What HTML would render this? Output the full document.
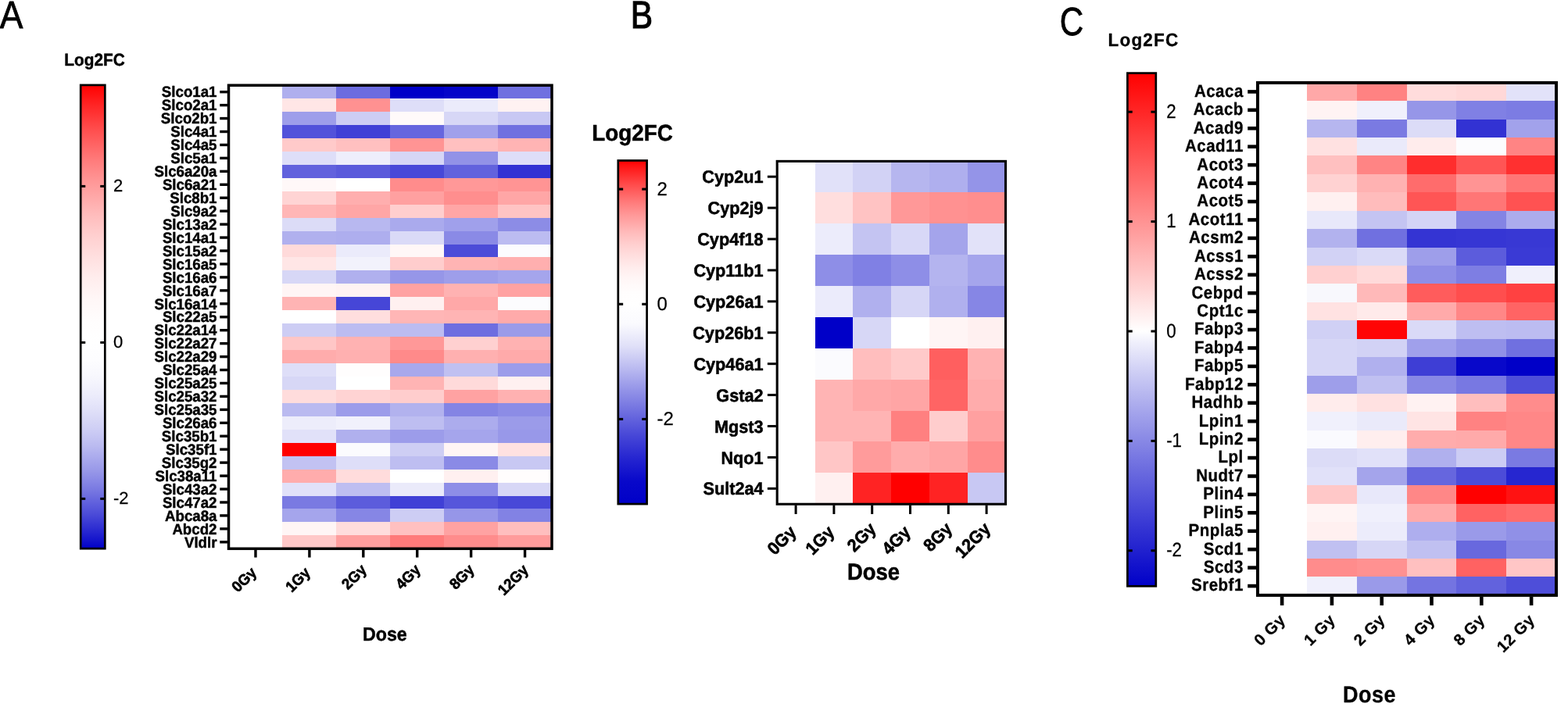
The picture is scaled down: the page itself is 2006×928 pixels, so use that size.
<!DOCTYPE html>
<html lang="en">
<head>
<meta charset="utf-8">
<title>Log2FC heatmaps</title>
<style>
html,body{margin:0;padding:0;background:#fff;}
body{width:2006px;height:928px;overflow:hidden;}
svg{display:block;}
</style>
</head>
<body>
<svg width="2006" height="928" viewBox="0 0 2006 928" text-rendering="geometricPrecision">
<rect width="2006" height="928" fill="#fff"/>
<g shape-rendering="crispEdges">
<rect x="361.42" y="109.20" width="69.22" height="17.25" fill="#afafee"/>
<rect x="430.33" y="109.20" width="69.22" height="17.25" fill="#6c6cdf"/>
<rect x="499.25" y="109.20" width="69.22" height="17.25" fill="#0000c8"/>
<rect x="568.17" y="109.20" width="69.22" height="17.25" fill="#0505c9"/>
<rect x="637.08" y="109.20" width="68.92" height="17.25" fill="#7070e0"/>
<rect x="361.42" y="126.15" width="69.22" height="17.25" fill="#ffe6e6"/>
<rect x="430.33" y="126.15" width="69.22" height="17.25" fill="#ff9191"/>
<rect x="499.25" y="126.15" width="69.22" height="17.25" fill="#dedef8"/>
<rect x="568.17" y="126.15" width="69.22" height="17.25" fill="#ebebfb"/>
<rect x="637.08" y="126.15" width="68.92" height="17.25" fill="#fff2f2"/>
<rect x="361.42" y="143.09" width="69.22" height="17.25" fill="#9e9eea"/>
<rect x="430.33" y="143.09" width="69.22" height="17.25" fill="#cdcdf4"/>
<rect x="499.25" y="143.09" width="69.22" height="17.25" fill="#fffafa"/>
<rect x="568.17" y="143.09" width="69.22" height="17.25" fill="#d7d7f6"/>
<rect x="637.08" y="143.09" width="68.92" height="17.25" fill="#c8c8f3"/>
<rect x="361.42" y="160.04" width="69.22" height="17.25" fill="#5252da"/>
<rect x="430.33" y="160.04" width="69.22" height="17.25" fill="#4040d6"/>
<rect x="499.25" y="160.04" width="69.22" height="17.25" fill="#6666de"/>
<rect x="568.17" y="160.04" width="69.22" height="17.25" fill="#a0a0eb"/>
<rect x="637.08" y="160.04" width="68.92" height="17.25" fill="#7070e0"/>
<rect x="361.42" y="176.98" width="69.22" height="17.25" fill="#ffcaca"/>
<rect x="430.33" y="176.98" width="69.22" height="17.25" fill="#ffc0c0"/>
<rect x="499.25" y="176.98" width="69.22" height="17.25" fill="#ff9494"/>
<rect x="568.17" y="176.98" width="69.22" height="17.25" fill="#ffc0c0"/>
<rect x="637.08" y="176.98" width="68.92" height="17.25" fill="#ffb4b4"/>
<rect x="361.42" y="193.93" width="69.22" height="17.25" fill="#dedef8"/>
<rect x="430.33" y="193.93" width="69.22" height="17.25" fill="#eeeefb"/>
<rect x="499.25" y="193.93" width="69.22" height="17.25" fill="#d6d6f6"/>
<rect x="568.17" y="193.93" width="69.22" height="17.25" fill="#9292e7"/>
<rect x="637.08" y="193.93" width="68.92" height="17.25" fill="#dedef8"/>
<rect x="361.42" y="210.87" width="69.22" height="17.25" fill="#6262dd"/>
<rect x="430.33" y="210.87" width="69.22" height="17.25" fill="#5a5adb"/>
<rect x="499.25" y="210.87" width="69.22" height="17.25" fill="#4848d8"/>
<rect x="568.17" y="210.87" width="69.22" height="17.25" fill="#6262dd"/>
<rect x="637.08" y="210.87" width="68.92" height="17.25" fill="#3232d3"/>
<rect x="361.42" y="227.82" width="69.22" height="17.25" fill="#fff8f8"/>
<rect x="430.33" y="227.82" width="69.22" height="17.25" fill="#ffffff"/>
<rect x="499.25" y="227.82" width="69.22" height="17.25" fill="#ff8c8c"/>
<rect x="568.17" y="227.82" width="69.22" height="17.25" fill="#ff9898"/>
<rect x="637.08" y="227.82" width="68.92" height="17.25" fill="#ff9494"/>
<rect x="361.42" y="244.77" width="69.22" height="17.25" fill="#ffd4d4"/>
<rect x="430.33" y="244.77" width="69.22" height="17.25" fill="#ffaeae"/>
<rect x="499.25" y="244.77" width="69.22" height="17.25" fill="#ffa0a0"/>
<rect x="568.17" y="244.77" width="69.22" height="17.25" fill="#ff8e8e"/>
<rect x="637.08" y="244.77" width="68.92" height="17.25" fill="#ffa6a6"/>
<rect x="361.42" y="261.71" width="69.22" height="17.25" fill="#ffb6b6"/>
<rect x="430.33" y="261.71" width="69.22" height="17.25" fill="#ffa6a6"/>
<rect x="499.25" y="261.71" width="69.22" height="17.25" fill="#ffcece"/>
<rect x="568.17" y="261.71" width="69.22" height="17.25" fill="#ffa6a6"/>
<rect x="637.08" y="261.71" width="68.92" height="17.25" fill="#ffc4c4"/>
<rect x="361.42" y="278.66" width="69.22" height="17.25" fill="#dcdcf7"/>
<rect x="430.33" y="278.66" width="69.22" height="17.25" fill="#b8b8f0"/>
<rect x="499.25" y="278.66" width="69.22" height="17.25" fill="#aaaaed"/>
<rect x="568.17" y="278.66" width="69.22" height="17.25" fill="#a0a0eb"/>
<rect x="637.08" y="278.66" width="68.92" height="17.25" fill="#8c8ce6"/>
<rect x="361.42" y="295.60" width="69.22" height="17.25" fill="#b0b0ee"/>
<rect x="430.33" y="295.60" width="69.22" height="17.25" fill="#aeaeee"/>
<rect x="499.25" y="295.60" width="69.22" height="17.25" fill="#dadaf7"/>
<rect x="568.17" y="295.60" width="69.22" height="17.25" fill="#8a8ae6"/>
<rect x="637.08" y="295.60" width="68.92" height="17.25" fill="#bcbcf1"/>
<rect x="361.42" y="312.55" width="69.22" height="17.25" fill="#ffdada"/>
<rect x="430.33" y="312.55" width="69.22" height="17.25" fill="#ebebfb"/>
<rect x="499.25" y="312.55" width="69.22" height="17.25" fill="#fff7f7"/>
<rect x="568.17" y="312.55" width="69.22" height="17.25" fill="#4c4cd8"/>
<rect x="637.08" y="312.55" width="68.92" height="17.25" fill="#fcfcfe"/>
<rect x="361.42" y="329.49" width="69.22" height="17.25" fill="#ffe6e6"/>
<rect x="430.33" y="329.49" width="69.22" height="17.25" fill="#f2f2fc"/>
<rect x="499.25" y="329.49" width="69.22" height="17.25" fill="#ffcdcd"/>
<rect x="568.17" y="329.49" width="69.22" height="17.25" fill="#ffb4b4"/>
<rect x="637.08" y="329.49" width="68.92" height="17.25" fill="#ffafaf"/>
<rect x="361.42" y="346.44" width="69.22" height="17.25" fill="#d7d7f6"/>
<rect x="430.33" y="346.44" width="69.22" height="17.25" fill="#b0b0ee"/>
<rect x="499.25" y="346.44" width="69.22" height="17.25" fill="#9696e8"/>
<rect x="568.17" y="346.44" width="69.22" height="17.25" fill="#9e9eea"/>
<rect x="637.08" y="346.44" width="68.92" height="17.25" fill="#a5a5ec"/>
<rect x="361.42" y="363.39" width="69.22" height="17.25" fill="#fff5f5"/>
<rect x="430.33" y="363.39" width="69.22" height="17.25" fill="#fff3f3"/>
<rect x="499.25" y="363.39" width="69.22" height="17.25" fill="#ffa2a2"/>
<rect x="568.17" y="363.39" width="69.22" height="17.25" fill="#ffb2b2"/>
<rect x="637.08" y="363.39" width="68.92" height="17.25" fill="#ffa2a2"/>
<rect x="361.42" y="380.33" width="69.22" height="17.25" fill="#ffb4b4"/>
<rect x="430.33" y="380.33" width="69.22" height="17.25" fill="#4646d7"/>
<rect x="499.25" y="380.33" width="69.22" height="17.25" fill="#fff0f0"/>
<rect x="568.17" y="380.33" width="69.22" height="17.25" fill="#ffa8a8"/>
<rect x="637.08" y="380.33" width="68.92" height="17.25" fill="#fcfcfe"/>
<rect x="361.42" y="397.28" width="69.22" height="17.25" fill="#ffffff"/>
<rect x="430.33" y="397.28" width="69.22" height="17.25" fill="#ffdede"/>
<rect x="499.25" y="397.28" width="69.22" height="17.25" fill="#ffb6b6"/>
<rect x="568.17" y="397.28" width="69.22" height="17.25" fill="#ffb4b4"/>
<rect x="637.08" y="397.28" width="68.92" height="17.25" fill="#ffaaaa"/>
<rect x="361.42" y="414.22" width="69.22" height="17.25" fill="#cdcdf4"/>
<rect x="430.33" y="414.22" width="69.22" height="17.25" fill="#bcbcf1"/>
<rect x="499.25" y="414.22" width="69.22" height="17.25" fill="#bcbcf1"/>
<rect x="568.17" y="414.22" width="69.22" height="17.25" fill="#6e6ee0"/>
<rect x="637.08" y="414.22" width="68.92" height="17.25" fill="#9b9be9"/>
<rect x="361.42" y="431.17" width="69.22" height="17.25" fill="#ffc6c6"/>
<rect x="430.33" y="431.17" width="69.22" height="17.25" fill="#ffb2b2"/>
<rect x="499.25" y="431.17" width="69.22" height="17.25" fill="#ff9898"/>
<rect x="568.17" y="431.17" width="69.22" height="17.25" fill="#ffd0d0"/>
<rect x="637.08" y="431.17" width="68.92" height="17.25" fill="#ffb2b2"/>
<rect x="361.42" y="448.11" width="69.22" height="17.25" fill="#ffacac"/>
<rect x="430.33" y="448.11" width="69.22" height="17.25" fill="#ffb0b0"/>
<rect x="499.25" y="448.11" width="69.22" height="17.25" fill="#ff8a8a"/>
<rect x="568.17" y="448.11" width="69.22" height="17.25" fill="#ffb0b0"/>
<rect x="637.08" y="448.11" width="68.92" height="17.25" fill="#ffaaaa"/>
<rect x="361.42" y="465.06" width="69.22" height="17.25" fill="#dedef8"/>
<rect x="430.33" y="465.06" width="69.22" height="17.25" fill="#fffdfd"/>
<rect x="499.25" y="465.06" width="69.22" height="17.25" fill="#a8a8ec"/>
<rect x="568.17" y="465.06" width="69.22" height="17.25" fill="#c0c0f1"/>
<rect x="637.08" y="465.06" width="68.92" height="17.25" fill="#9c9cea"/>
<rect x="361.42" y="482.01" width="69.22" height="17.25" fill="#d7d7f6"/>
<rect x="430.33" y="482.01" width="69.22" height="17.25" fill="#ffffff"/>
<rect x="499.25" y="482.01" width="69.22" height="17.25" fill="#ffb4b4"/>
<rect x="568.17" y="482.01" width="69.22" height="17.25" fill="#ffdada"/>
<rect x="637.08" y="482.01" width="68.92" height="17.25" fill="#fff0f0"/>
<rect x="361.42" y="498.95" width="69.22" height="17.25" fill="#ffdcdc"/>
<rect x="430.33" y="498.95" width="69.22" height="17.25" fill="#ffd3d3"/>
<rect x="499.25" y="498.95" width="69.22" height="17.25" fill="#ffcdcd"/>
<rect x="568.17" y="498.95" width="69.22" height="17.25" fill="#ffa2a2"/>
<rect x="637.08" y="498.95" width="68.92" height="17.25" fill="#ffb1b1"/>
<rect x="361.42" y="515.90" width="69.22" height="17.25" fill="#babaf0"/>
<rect x="430.33" y="515.90" width="69.22" height="17.25" fill="#9c9cea"/>
<rect x="499.25" y="515.90" width="69.22" height="17.25" fill="#b2b2ee"/>
<rect x="568.17" y="515.90" width="69.22" height="17.25" fill="#8484e4"/>
<rect x="637.08" y="515.90" width="68.92" height="17.25" fill="#8c8ce6"/>
<rect x="361.42" y="532.84" width="69.22" height="17.25" fill="#ededfb"/>
<rect x="430.33" y="532.84" width="69.22" height="17.25" fill="#f1f1fc"/>
<rect x="499.25" y="532.84" width="69.22" height="17.25" fill="#bebef1"/>
<rect x="568.17" y="532.84" width="69.22" height="17.25" fill="#acaced"/>
<rect x="637.08" y="532.84" width="68.92" height="17.25" fill="#9b9be9"/>
<rect x="361.42" y="549.79" width="69.22" height="17.25" fill="#e1e1f9"/>
<rect x="430.33" y="549.79" width="69.22" height="17.25" fill="#b0b0ee"/>
<rect x="499.25" y="549.79" width="69.22" height="17.25" fill="#9c9cea"/>
<rect x="568.17" y="549.79" width="69.22" height="17.25" fill="#a5a5ec"/>
<rect x="637.08" y="549.79" width="68.92" height="17.25" fill="#9898e9"/>
<rect x="361.42" y="566.73" width="69.22" height="17.25" fill="#ff0000"/>
<rect x="430.33" y="566.73" width="69.22" height="17.25" fill="#fbfbfe"/>
<rect x="499.25" y="566.73" width="69.22" height="17.25" fill="#cecef4"/>
<rect x="568.17" y="566.73" width="69.22" height="17.25" fill="#fff5f5"/>
<rect x="637.08" y="566.73" width="68.92" height="17.25" fill="#ffe1e1"/>
<rect x="361.42" y="583.68" width="69.22" height="17.25" fill="#c2c2f2"/>
<rect x="430.33" y="583.68" width="69.22" height="17.25" fill="#dedef8"/>
<rect x="499.25" y="583.68" width="69.22" height="17.25" fill="#bebef1"/>
<rect x="568.17" y="583.68" width="69.22" height="17.25" fill="#8a8ae6"/>
<rect x="637.08" y="583.68" width="68.92" height="17.25" fill="#c8c8f3"/>
<rect x="361.42" y="600.63" width="69.22" height="17.25" fill="#ffacac"/>
<rect x="430.33" y="600.63" width="69.22" height="17.25" fill="#ffdcdc"/>
<rect x="499.25" y="600.63" width="69.22" height="17.25" fill="#ffffff"/>
<rect x="568.17" y="600.63" width="69.22" height="17.25" fill="#fff0f0"/>
<rect x="637.08" y="600.63" width="68.92" height="17.25" fill="#fffdfd"/>
<rect x="361.42" y="617.57" width="69.22" height="17.25" fill="#e1e1f9"/>
<rect x="430.33" y="617.57" width="69.22" height="17.25" fill="#bebef1"/>
<rect x="499.25" y="617.57" width="69.22" height="17.25" fill="#eaeafa"/>
<rect x="568.17" y="617.57" width="69.22" height="17.25" fill="#8e8ee7"/>
<rect x="637.08" y="617.57" width="68.92" height="17.25" fill="#d7d7f6"/>
<rect x="361.42" y="634.52" width="69.22" height="17.25" fill="#7a7ae2"/>
<rect x="430.33" y="634.52" width="69.22" height="17.25" fill="#5c5cdc"/>
<rect x="499.25" y="634.52" width="69.22" height="17.25" fill="#4040d6"/>
<rect x="568.17" y="634.52" width="69.22" height="17.25" fill="#5656db"/>
<rect x="637.08" y="634.52" width="68.92" height="17.25" fill="#4848d8"/>
<rect x="361.42" y="651.46" width="69.22" height="17.25" fill="#a5a5ec"/>
<rect x="430.33" y="651.46" width="69.22" height="17.25" fill="#8686e5"/>
<rect x="499.25" y="651.46" width="69.22" height="17.25" fill="#cdcdf4"/>
<rect x="568.17" y="651.46" width="69.22" height="17.25" fill="#9696e8"/>
<rect x="637.08" y="651.46" width="68.92" height="17.25" fill="#8282e4"/>
<rect x="361.42" y="668.41" width="69.22" height="17.25" fill="#fff5f5"/>
<rect x="430.33" y="668.41" width="69.22" height="17.25" fill="#ffdcdc"/>
<rect x="499.25" y="668.41" width="69.22" height="17.25" fill="#ffc0c0"/>
<rect x="568.17" y="668.41" width="69.22" height="17.25" fill="#ffa2a2"/>
<rect x="637.08" y="668.41" width="68.92" height="17.25" fill="#ffbebe"/>
<rect x="361.42" y="685.35" width="69.22" height="16.95" fill="#ffc8c8"/>
<rect x="430.33" y="685.35" width="69.22" height="16.95" fill="#ff9e9e"/>
<rect x="499.25" y="685.35" width="69.22" height="16.95" fill="#ff7a7a"/>
<rect x="568.17" y="685.35" width="69.22" height="16.95" fill="#ff8c8c"/>
<rect x="637.08" y="685.35" width="68.92" height="16.95" fill="#ff9b9b"/>
</g>
<rect x="292.50" y="109.20" width="413.50" height="593.10" fill="none" stroke="#000" stroke-width="3.50"/>
<g font-family='"Liberation Sans", sans-serif' font-weight="bold" font-size="18.70" text-anchor="end" stroke="#000" stroke-width="0.45" stroke-linejoin="round">
<line x1="281.25" y1="117.67" x2="290.95" y2="117.67" stroke="#000" stroke-width="3.40"/>
<text transform="translate(277.50 124.37) scale(1.000 1.040)">Slco1a1</text>
<line x1="281.25" y1="134.62" x2="290.95" y2="134.62" stroke="#000" stroke-width="3.40"/>
<text transform="translate(277.50 141.32) scale(1.000 1.040)">Slco2a1</text>
<line x1="281.25" y1="151.56" x2="290.95" y2="151.56" stroke="#000" stroke-width="3.40"/>
<text transform="translate(277.50 158.26) scale(1.000 1.040)">Slco2b1</text>
<line x1="281.25" y1="168.51" x2="290.95" y2="168.51" stroke="#000" stroke-width="3.40"/>
<text transform="translate(277.50 175.21) scale(1.000 1.040)">Slc4a1</text>
<line x1="281.25" y1="185.46" x2="290.95" y2="185.46" stroke="#000" stroke-width="3.40"/>
<text transform="translate(277.50 192.16) scale(1.000 1.040)">Slc4a5</text>
<line x1="281.25" y1="202.40" x2="290.95" y2="202.40" stroke="#000" stroke-width="3.40"/>
<text transform="translate(277.50 209.10) scale(1.000 1.040)">Slc5a1</text>
<line x1="281.25" y1="219.35" x2="290.95" y2="219.35" stroke="#000" stroke-width="3.40"/>
<text transform="translate(277.50 226.05) scale(1.000 1.040)">Slc6a20a</text>
<line x1="281.25" y1="236.29" x2="290.95" y2="236.29" stroke="#000" stroke-width="3.40"/>
<text transform="translate(277.50 242.99) scale(1.000 1.040)">Slc6a21</text>
<line x1="281.25" y1="253.24" x2="290.95" y2="253.24" stroke="#000" stroke-width="3.40"/>
<text transform="translate(277.50 259.94) scale(1.000 1.040)">Slc8b1</text>
<line x1="281.25" y1="270.18" x2="290.95" y2="270.18" stroke="#000" stroke-width="3.40"/>
<text transform="translate(277.50 276.88) scale(1.000 1.040)">Slc9a2</text>
<line x1="281.25" y1="287.13" x2="290.95" y2="287.13" stroke="#000" stroke-width="3.40"/>
<text transform="translate(277.50 293.83) scale(1.000 1.040)">Slc13a2</text>
<line x1="281.25" y1="304.08" x2="290.95" y2="304.08" stroke="#000" stroke-width="3.40"/>
<text transform="translate(277.50 310.78) scale(1.000 1.040)">Slc14a1</text>
<line x1="281.25" y1="321.02" x2="290.95" y2="321.02" stroke="#000" stroke-width="3.40"/>
<text transform="translate(277.50 327.72) scale(1.000 1.040)">Slc15a2</text>
<line x1="281.25" y1="337.97" x2="290.95" y2="337.97" stroke="#000" stroke-width="3.40"/>
<text transform="translate(277.50 344.67) scale(1.000 1.040)">Slc16a5</text>
<line x1="281.25" y1="354.91" x2="290.95" y2="354.91" stroke="#000" stroke-width="3.40"/>
<text transform="translate(277.50 361.61) scale(1.000 1.040)">Slc16a6</text>
<line x1="281.25" y1="371.86" x2="290.95" y2="371.86" stroke="#000" stroke-width="3.40"/>
<text transform="translate(277.50 378.56) scale(1.000 1.040)">Slc16a7</text>
<line x1="281.25" y1="388.80" x2="290.95" y2="388.80" stroke="#000" stroke-width="3.40"/>
<text transform="translate(277.50 395.50) scale(1.000 1.040)">Slc16a14</text>
<line x1="281.25" y1="405.75" x2="290.95" y2="405.75" stroke="#000" stroke-width="3.40"/>
<text transform="translate(277.50 412.45) scale(1.000 1.040)">Slc22a5</text>
<line x1="281.25" y1="422.70" x2="290.95" y2="422.70" stroke="#000" stroke-width="3.40"/>
<text transform="translate(277.50 429.40) scale(1.000 1.040)">Slc22a14</text>
<line x1="281.25" y1="439.64" x2="290.95" y2="439.64" stroke="#000" stroke-width="3.40"/>
<text transform="translate(277.50 446.34) scale(1.000 1.040)">Slc22a27</text>
<line x1="281.25" y1="456.59" x2="290.95" y2="456.59" stroke="#000" stroke-width="3.40"/>
<text transform="translate(277.50 463.29) scale(1.000 1.040)">Slc22a29</text>
<line x1="281.25" y1="473.53" x2="290.95" y2="473.53" stroke="#000" stroke-width="3.40"/>
<text transform="translate(277.50 480.23) scale(1.000 1.040)">Slc25a4</text>
<line x1="281.25" y1="490.48" x2="290.95" y2="490.48" stroke="#000" stroke-width="3.40"/>
<text transform="translate(277.50 497.18) scale(1.000 1.040)">Slc25a25</text>
<line x1="281.25" y1="507.42" x2="290.95" y2="507.42" stroke="#000" stroke-width="3.40"/>
<text transform="translate(277.50 514.12) scale(1.000 1.040)">Slc25a32</text>
<line x1="281.25" y1="524.37" x2="290.95" y2="524.37" stroke="#000" stroke-width="3.40"/>
<text transform="translate(277.50 531.07) scale(1.000 1.040)">Slc25a35</text>
<line x1="281.25" y1="541.32" x2="290.95" y2="541.32" stroke="#000" stroke-width="3.40"/>
<text transform="translate(277.50 548.02) scale(1.000 1.040)">Slc26a6</text>
<line x1="281.25" y1="558.26" x2="290.95" y2="558.26" stroke="#000" stroke-width="3.40"/>
<text transform="translate(277.50 564.96) scale(1.000 1.040)">Slc35b1</text>
<line x1="281.25" y1="575.21" x2="290.95" y2="575.21" stroke="#000" stroke-width="3.40"/>
<text transform="translate(277.50 581.91) scale(1.000 1.040)">Slc35f1</text>
<line x1="281.25" y1="592.15" x2="290.95" y2="592.15" stroke="#000" stroke-width="3.40"/>
<text transform="translate(277.50 598.85) scale(1.000 1.040)">Slc35g2</text>
<line x1="281.25" y1="609.10" x2="290.95" y2="609.10" stroke="#000" stroke-width="3.40"/>
<text transform="translate(277.50 615.80) scale(1.000 1.040)">Slc38a11</text>
<line x1="281.25" y1="626.04" x2="290.95" y2="626.04" stroke="#000" stroke-width="3.40"/>
<text transform="translate(277.50 632.74) scale(1.000 1.040)">Slc43a2</text>
<line x1="281.25" y1="642.99" x2="290.95" y2="642.99" stroke="#000" stroke-width="3.40"/>
<text transform="translate(277.50 649.69) scale(1.000 1.040)">Slc47a2</text>
<line x1="281.25" y1="659.94" x2="290.95" y2="659.94" stroke="#000" stroke-width="3.40"/>
<text transform="translate(277.50 666.64) scale(1.000 1.040)">Abca8a</text>
<line x1="281.25" y1="676.88" x2="290.95" y2="676.88" stroke="#000" stroke-width="3.40"/>
<text transform="translate(277.50 683.58) scale(1.000 1.040)">Abcd2</text>
<line x1="281.25" y1="693.83" x2="290.95" y2="693.83" stroke="#000" stroke-width="3.40"/>
<text transform="translate(277.50 700.53) scale(1.000 1.040)">Vldlr</text>
</g>
<g font-family='"Liberation Sans", sans-serif' font-weight="bold" font-size="18.70" text-anchor="end" stroke="#000" stroke-width="0.60" stroke-linejoin="round">
<line x1="326.96" y1="703.85" x2="326.96" y2="713.55" stroke="#000" stroke-width="3.40"/>
<text transform="translate(329.26 734.10) rotate(-45) scale(1.000 1.040)">0Gy</text>
<line x1="395.88" y1="703.85" x2="395.88" y2="713.55" stroke="#000" stroke-width="3.40"/>
<text transform="translate(398.18 734.10) rotate(-45) scale(1.000 1.040)">1Gy</text>
<line x1="464.79" y1="703.85" x2="464.79" y2="713.55" stroke="#000" stroke-width="3.40"/>
<text transform="translate(470.09 730.50) rotate(-45) scale(1.000 1.040)">2Gy</text>
<line x1="533.71" y1="703.85" x2="533.71" y2="713.55" stroke="#000" stroke-width="3.40"/>
<text transform="translate(539.01 730.50) rotate(-45) scale(1.000 1.040)">4Gy</text>
<line x1="602.62" y1="703.85" x2="602.62" y2="713.55" stroke="#000" stroke-width="3.40"/>
<text transform="translate(607.92 730.50) rotate(-45) scale(1.000 1.040)">8Gy</text>
<line x1="671.54" y1="703.85" x2="671.54" y2="713.55" stroke="#000" stroke-width="3.40"/>
<text transform="translate(677.14 730.70) rotate(-45) scale(1.000 1.040)">12Gy</text>
</g>
<text transform="translate(492.40 819.80) scale(1.000 1.055)" font-family='"Liberation Sans", sans-serif' font-weight="bold" font-size="23.20" text-anchor="middle" stroke="#000" stroke-width="0.45" stroke-linejoin="round">Dose</text>
<defs><linearGradient id="gA" x1="0" y1="0" x2="0" y2="1"><stop offset="0.00%" stop-color="#ff0000"/><stop offset="2.31%" stop-color="#ff1414"/><stop offset="4.63%" stop-color="#ff2727"/><stop offset="6.94%" stop-color="#ff3939"/><stop offset="9.26%" stop-color="#ff4b4b"/><stop offset="11.57%" stop-color="#ff5b5b"/><stop offset="13.88%" stop-color="#ff6b6b"/><stop offset="16.20%" stop-color="#ff7b7b"/><stop offset="18.51%" stop-color="#ff8989"/><stop offset="20.83%" stop-color="#ff9797"/><stop offset="23.14%" stop-color="#ffa3a3"/><stop offset="25.45%" stop-color="#ffafaf"/><stop offset="27.77%" stop-color="#ffbbbb"/><stop offset="30.08%" stop-color="#ffc5c5"/><stop offset="32.40%" stop-color="#ffcfcf"/><stop offset="34.71%" stop-color="#ffd7d7"/><stop offset="37.02%" stop-color="#ffdfdf"/><stop offset="39.34%" stop-color="#ffe6e6"/><stop offset="41.65%" stop-color="#ffeded"/><stop offset="43.97%" stop-color="#fff2f2"/><stop offset="46.28%" stop-color="#fff7f7"/><stop offset="48.59%" stop-color="#fffafa"/><stop offset="50.91%" stop-color="#fffdfd"/><stop offset="53.22%" stop-color="#fffefe"/><stop offset="55.54%" stop-color="#ffffff"/><stop offset="57.39%" stop-color="#fefeff"/><stop offset="59.24%" stop-color="#fdfdff"/><stop offset="61.09%" stop-color="#fafafe"/><stop offset="62.95%" stop-color="#f7f7fd"/><stop offset="64.80%" stop-color="#f2f2fc"/><stop offset="66.65%" stop-color="#ededfb"/><stop offset="68.51%" stop-color="#e6e6fa"/><stop offset="70.36%" stop-color="#dfdff8"/><stop offset="72.21%" stop-color="#d7d7f6"/><stop offset="74.06%" stop-color="#cfcff5"/><stop offset="75.92%" stop-color="#c5c5f3"/><stop offset="77.77%" stop-color="#bbbbf0"/><stop offset="79.62%" stop-color="#afafee"/><stop offset="81.47%" stop-color="#a3a3eb"/><stop offset="83.33%" stop-color="#9797e8"/><stop offset="85.18%" stop-color="#8989e6"/><stop offset="87.03%" stop-color="#7b7be2"/><stop offset="88.88%" stop-color="#6b6bdf"/><stop offset="90.74%" stop-color="#5b5bdc"/><stop offset="92.59%" stop-color="#4b4bd8"/><stop offset="94.44%" stop-color="#3939d4"/><stop offset="96.29%" stop-color="#2727d0"/><stop offset="98.15%" stop-color="#1414cc"/><stop offset="100.00%" stop-color="#0000c8"/></linearGradient></defs>
<rect x="103.20" y="108.90" width="31.10" height="593.30" fill="url(#gA)" stroke="#000" stroke-width="2.70"/>
<g font-family='"Liberation Sans", sans-serif' font-size="22.00" stroke="#000" stroke-width="0.25">
<line x1="103.20" y1="238.40" x2="109.25" y2="238.40" stroke="#000" stroke-width="3.00"/>
<line x1="128.25" y1="238.40" x2="134.30" y2="238.40" stroke="#000" stroke-width="3.00"/>
<text transform="translate(145.00 245.10) scale(1.000 1.000)">2</text>
<line x1="103.20" y1="438.40" x2="109.25" y2="438.40" stroke="#000" stroke-width="3.00"/>
<line x1="128.25" y1="438.40" x2="134.30" y2="438.40" stroke="#000" stroke-width="3.00"/>
<text transform="translate(145.00 445.10) scale(1.000 1.000)">0</text>
<line x1="103.20" y1="638.40" x2="109.25" y2="638.40" stroke="#000" stroke-width="3.00"/>
<line x1="128.25" y1="638.40" x2="134.30" y2="638.40" stroke="#000" stroke-width="3.00"/>
<text transform="translate(145.00 645.10) scale(1.000 1.000)">-2</text>
</g>
<text transform="translate(82.30 83.80) scale(1.000 1.060)" font-family='"Liberation Sans", sans-serif' font-weight="bold" font-size="20.80" stroke="#000" stroke-width="0.45" stroke-linejoin="round">Log2FC</text>
<text transform="translate(-0.20 35.50) scale(0.897 1)" font-family='"Liberation Sans", sans-serif' font-size="49.60" stroke="#000" stroke-width="0.80">A</text>
<g shape-rendering="crispEdges">
<rect x="1042.50" y="206.20" width="49.10" height="40.22" fill="#e1e1f9"/>
<rect x="1091.30" y="206.20" width="49.10" height="40.22" fill="#d2d2f5"/>
<rect x="1140.10" y="206.20" width="49.10" height="40.22" fill="#b6b6ef"/>
<rect x="1188.90" y="206.20" width="49.10" height="40.22" fill="#afafee"/>
<rect x="1237.70" y="206.20" width="48.80" height="40.22" fill="#9494e8"/>
<rect x="1042.50" y="246.12" width="49.10" height="40.22" fill="#ffdede"/>
<rect x="1091.30" y="246.12" width="49.10" height="40.22" fill="#ffc3c3"/>
<rect x="1140.10" y="246.12" width="49.10" height="40.22" fill="#ff9898"/>
<rect x="1188.90" y="246.12" width="49.10" height="40.22" fill="#ff9191"/>
<rect x="1237.70" y="246.12" width="48.80" height="40.22" fill="#ff8e8e"/>
<rect x="1042.50" y="286.04" width="49.10" height="40.22" fill="#ececfb"/>
<rect x="1091.30" y="286.04" width="49.10" height="40.22" fill="#c4c4f2"/>
<rect x="1140.10" y="286.04" width="49.10" height="40.22" fill="#d8d8f7"/>
<rect x="1188.90" y="286.04" width="49.10" height="40.22" fill="#a4a4eb"/>
<rect x="1237.70" y="286.04" width="48.80" height="40.22" fill="#e2e2f9"/>
<rect x="1042.50" y="325.95" width="49.10" height="40.22" fill="#8e8ee7"/>
<rect x="1091.30" y="325.95" width="49.10" height="40.22" fill="#8080e4"/>
<rect x="1140.10" y="325.95" width="49.10" height="40.22" fill="#8e8ee7"/>
<rect x="1188.90" y="325.95" width="49.10" height="40.22" fill="#b4b4ef"/>
<rect x="1237.70" y="325.95" width="48.80" height="40.22" fill="#a5a5ec"/>
<rect x="1042.50" y="365.87" width="49.10" height="40.22" fill="#ebebfb"/>
<rect x="1091.30" y="365.87" width="49.10" height="40.22" fill="#b0b0ee"/>
<rect x="1140.10" y="365.87" width="49.10" height="40.22" fill="#d6d6f6"/>
<rect x="1188.90" y="365.87" width="49.10" height="40.22" fill="#b0b0ee"/>
<rect x="1237.70" y="365.87" width="48.80" height="40.22" fill="#8686e5"/>
<rect x="1042.50" y="405.79" width="49.10" height="40.22" fill="#0000c8"/>
<rect x="1091.30" y="405.79" width="49.10" height="40.22" fill="#d7d7f6"/>
<rect x="1140.10" y="405.79" width="49.10" height="40.22" fill="#ffffff"/>
<rect x="1188.90" y="405.79" width="49.10" height="40.22" fill="#fff5f5"/>
<rect x="1237.70" y="405.79" width="48.80" height="40.22" fill="#fff0f0"/>
<rect x="1042.50" y="445.71" width="49.10" height="40.22" fill="#fbfbfe"/>
<rect x="1091.30" y="445.71" width="49.10" height="40.22" fill="#ffbebe"/>
<rect x="1140.10" y="445.71" width="49.10" height="40.22" fill="#ffcaca"/>
<rect x="1188.90" y="445.71" width="49.10" height="40.22" fill="#ff5f5f"/>
<rect x="1237.70" y="445.71" width="48.80" height="40.22" fill="#ffb2b2"/>
<rect x="1042.50" y="485.63" width="49.10" height="40.22" fill="#ffb4b4"/>
<rect x="1091.30" y="485.63" width="49.10" height="40.22" fill="#ffa8a8"/>
<rect x="1140.10" y="485.63" width="49.10" height="40.22" fill="#ffa5a5"/>
<rect x="1188.90" y="485.63" width="49.10" height="40.22" fill="#ff6464"/>
<rect x="1237.70" y="485.63" width="48.80" height="40.22" fill="#ffacac"/>
<rect x="1042.50" y="525.55" width="49.10" height="40.22" fill="#ffb4b4"/>
<rect x="1091.30" y="525.55" width="49.10" height="40.22" fill="#ffb4b4"/>
<rect x="1140.10" y="525.55" width="49.10" height="40.22" fill="#ff8080"/>
<rect x="1188.90" y="525.55" width="49.10" height="40.22" fill="#ffcdcd"/>
<rect x="1237.70" y="525.55" width="48.80" height="40.22" fill="#ffa0a0"/>
<rect x="1042.50" y="565.46" width="49.10" height="40.22" fill="#ffc6c6"/>
<rect x="1091.30" y="565.46" width="49.10" height="40.22" fill="#ff9b9b"/>
<rect x="1140.10" y="565.46" width="49.10" height="40.22" fill="#ffacac"/>
<rect x="1188.90" y="565.46" width="49.10" height="40.22" fill="#ffa5a5"/>
<rect x="1237.70" y="565.46" width="48.80" height="40.22" fill="#ff8c8c"/>
<rect x="1042.50" y="605.38" width="49.10" height="39.92" fill="#fff0f0"/>
<rect x="1091.30" y="605.38" width="49.10" height="39.92" fill="#ff2323"/>
<rect x="1140.10" y="605.38" width="49.10" height="39.92" fill="#ff0000"/>
<rect x="1188.90" y="605.38" width="49.10" height="39.92" fill="#ff2323"/>
<rect x="1237.70" y="605.38" width="48.80" height="39.92" fill="#c8c8f3"/>
</g>
<rect x="994.20" y="206.40" width="292.30" height="438.90" fill="none" stroke="#000" stroke-width="3.10"/>
<g font-family='"Liberation Sans", sans-serif' font-weight="bold" font-size="21.70" text-anchor="end" stroke="#000" stroke-width="0.50" stroke-linejoin="round">
<line x1="981.85" y1="226.16" x2="992.85" y2="226.16" stroke="#000" stroke-width="3.00"/>
<text transform="translate(976.60 234.26) scale(1.000 1.040)">Cyp2u1</text>
<line x1="981.85" y1="266.08" x2="992.85" y2="266.08" stroke="#000" stroke-width="3.00"/>
<text transform="translate(976.60 274.18) scale(1.000 1.040)">Cyp2j9</text>
<line x1="981.85" y1="306.00" x2="992.85" y2="306.00" stroke="#000" stroke-width="3.00"/>
<text transform="translate(976.60 314.10) scale(1.000 1.040)">Cyp4f18</text>
<line x1="981.85" y1="345.91" x2="992.85" y2="345.91" stroke="#000" stroke-width="3.00"/>
<text transform="translate(976.60 354.01) scale(1.000 1.040)">Cyp11b1</text>
<line x1="981.85" y1="385.83" x2="992.85" y2="385.83" stroke="#000" stroke-width="3.00"/>
<text transform="translate(976.60 393.93) scale(1.000 1.040)">Cyp26a1</text>
<line x1="981.85" y1="425.75" x2="992.85" y2="425.75" stroke="#000" stroke-width="3.00"/>
<text transform="translate(976.60 433.85) scale(1.000 1.040)">Cyp26b1</text>
<line x1="981.85" y1="465.67" x2="992.85" y2="465.67" stroke="#000" stroke-width="3.00"/>
<text transform="translate(976.60 473.77) scale(1.000 1.040)">Cyp46a1</text>
<line x1="981.85" y1="505.59" x2="992.85" y2="505.59" stroke="#000" stroke-width="3.00"/>
<text transform="translate(976.60 513.69) scale(1.000 1.040)">Gsta2</text>
<line x1="981.85" y1="545.50" x2="992.85" y2="545.50" stroke="#000" stroke-width="3.00"/>
<text transform="translate(976.60 553.60) scale(1.000 1.040)">Mgst3</text>
<line x1="981.85" y1="585.42" x2="992.85" y2="585.42" stroke="#000" stroke-width="3.00"/>
<text transform="translate(976.60 593.52) scale(1.000 1.040)">Nqo1</text>
<line x1="981.85" y1="625.34" x2="992.85" y2="625.34" stroke="#000" stroke-width="3.00"/>
<text transform="translate(976.60 633.44) scale(1.000 1.040)">Sult2a4</text>
</g>
<g font-family='"Liberation Sans", sans-serif' font-weight="bold" font-size="21.70" text-anchor="end" stroke="#000" stroke-width="0.60" stroke-linejoin="round">
<line x1="1018.10" y1="646.65" x2="1018.10" y2="658.05" stroke="#000" stroke-width="3.00"/>
<text transform="translate(1020.00 682.50) rotate(-45) scale(1.000 1.040)">0Gy</text>
<line x1="1066.90" y1="646.65" x2="1066.90" y2="658.05" stroke="#000" stroke-width="3.00"/>
<text transform="translate(1068.80 682.50) rotate(-45) scale(1.000 1.040)">1Gy</text>
<line x1="1115.70" y1="646.65" x2="1115.70" y2="658.05" stroke="#000" stroke-width="3.00"/>
<text transform="translate(1122.10 678.40) rotate(-45) scale(1.000 1.040)">2Gy</text>
<line x1="1164.50" y1="646.65" x2="1164.50" y2="658.05" stroke="#000" stroke-width="3.00"/>
<text transform="translate(1166.40 682.50) rotate(-45) scale(1.000 1.040)">4Gy</text>
<line x1="1213.30" y1="646.65" x2="1213.30" y2="658.05" stroke="#000" stroke-width="3.00"/>
<text transform="translate(1219.60 678.20) rotate(-45) scale(1.000 1.040)">8Gy</text>
<line x1="1262.10" y1="646.65" x2="1262.10" y2="658.05" stroke="#000" stroke-width="3.00"/>
<text transform="translate(1268.50 678.30) rotate(-45) scale(1.000 1.040)">12Gy</text>
</g>
<text transform="translate(1117.40 741.80) scale(1.000 1.080)" font-family='"Liberation Sans", sans-serif' font-weight="bold" font-size="27.40" text-anchor="middle" stroke="#000" stroke-width="0.50" stroke-linejoin="round">Dose</text>
<defs><linearGradient id="gB" x1="0" y1="0" x2="0" y2="1"><stop offset="0.00%" stop-color="#ff0000"/><stop offset="1.74%" stop-color="#ff1414"/><stop offset="3.48%" stop-color="#ff2727"/><stop offset="5.23%" stop-color="#ff3939"/><stop offset="6.97%" stop-color="#ff4b4b"/><stop offset="8.71%" stop-color="#ff5b5b"/><stop offset="10.45%" stop-color="#ff6b6b"/><stop offset="12.19%" stop-color="#ff7b7b"/><stop offset="13.94%" stop-color="#ff8989"/><stop offset="15.68%" stop-color="#ff9797"/><stop offset="17.42%" stop-color="#ffa3a3"/><stop offset="19.16%" stop-color="#ffafaf"/><stop offset="20.91%" stop-color="#ffbbbb"/><stop offset="22.65%" stop-color="#ffc5c5"/><stop offset="24.39%" stop-color="#ffcfcf"/><stop offset="26.13%" stop-color="#ffd7d7"/><stop offset="27.87%" stop-color="#ffdfdf"/><stop offset="29.62%" stop-color="#ffe6e6"/><stop offset="31.36%" stop-color="#ffeded"/><stop offset="33.10%" stop-color="#fff2f2"/><stop offset="34.84%" stop-color="#fff7f7"/><stop offset="36.58%" stop-color="#fffafa"/><stop offset="38.33%" stop-color="#fffdfd"/><stop offset="40.07%" stop-color="#fffefe"/><stop offset="41.81%" stop-color="#ffffff"/><stop offset="47.51%" stop-color="#fafafe"/><stop offset="54.03%" stop-color="#e0e0f8"/><stop offset="60.72%" stop-color="#b9b9f0"/><stop offset="67.24%" stop-color="#9191e7"/><stop offset="71.25%" stop-color="#7a7ae2"/><stop offset="75.27%" stop-color="#6262dd"/><stop offset="80.22%" stop-color="#4646d7"/><stop offset="86.97%" stop-color="#2424d0"/><stop offset="93.48%" stop-color="#0808ca"/><stop offset="100.00%" stop-color="#0000c8"/></linearGradient></defs>
<rect x="790.80" y="205.50" width="36.80" height="439.60" fill="url(#gB)" stroke="#000" stroke-width="2.70"/>
<g font-family='"Liberation Sans", sans-serif' font-size="24.00" stroke="#000" stroke-width="0.25">
<line x1="790.80" y1="242.10" x2="797.15" y2="242.10" stroke="#000" stroke-width="3.10"/>
<line x1="821.25" y1="242.10" x2="827.60" y2="242.10" stroke="#000" stroke-width="3.10"/>
<text transform="translate(840.50 249.90) scale(1.000 1.000)">2</text>
<line x1="790.80" y1="389.30" x2="797.15" y2="389.30" stroke="#000" stroke-width="3.10"/>
<line x1="821.25" y1="389.30" x2="827.60" y2="389.30" stroke="#000" stroke-width="3.10"/>
<text transform="translate(840.50 397.10) scale(1.000 1.000)">0</text>
<line x1="790.80" y1="536.50" x2="797.15" y2="536.50" stroke="#000" stroke-width="3.10"/>
<line x1="821.25" y1="536.50" x2="827.60" y2="536.50" stroke="#000" stroke-width="3.10"/>
<text transform="translate(840.50 544.30) scale(1.000 1.000)">-2</text>
</g>
<text transform="translate(757.30 180.10) scale(1.000 1.050)" font-family='"Liberation Sans", sans-serif' font-weight="bold" font-size="27.80" stroke="#000" stroke-width="0.50" stroke-linejoin="round">Log2FC</text>
<text transform="translate(806.70 35.50) scale(0.856 1)" font-family='"Liberation Sans", sans-serif' font-size="49.60" stroke="#000" stroke-width="1.20">B</text>
<g shape-rendering="crispEdges">
<rect x="1672.00" y="105.70" width="64.10" height="23.73" fill="#ffa8a8"/>
<rect x="1735.80" y="105.70" width="64.10" height="23.73" fill="#ff8282"/>
<rect x="1799.60" y="105.70" width="64.10" height="23.73" fill="#ffdcdc"/>
<rect x="1863.40" y="105.70" width="64.10" height="23.73" fill="#ffd8d8"/>
<rect x="1927.20" y="105.70" width="63.80" height="23.73" fill="#e2e2f9"/>
<rect x="1672.00" y="129.13" width="64.10" height="23.73" fill="#fff3f3"/>
<rect x="1735.80" y="129.13" width="64.10" height="23.73" fill="#f0f0fc"/>
<rect x="1799.60" y="129.13" width="64.10" height="23.73" fill="#9696e8"/>
<rect x="1863.40" y="129.13" width="64.10" height="23.73" fill="#8080e4"/>
<rect x="1927.20" y="129.13" width="63.80" height="23.73" fill="#7c7ce3"/>
<rect x="1672.00" y="152.56" width="64.10" height="23.73" fill="#b6b6ef"/>
<rect x="1735.80" y="152.56" width="64.10" height="23.73" fill="#7a7ae2"/>
<rect x="1799.60" y="152.56" width="64.10" height="23.73" fill="#dcdcf7"/>
<rect x="1863.40" y="152.56" width="64.10" height="23.73" fill="#3232d3"/>
<rect x="1927.20" y="152.56" width="63.80" height="23.73" fill="#a2a2eb"/>
<rect x="1672.00" y="176.00" width="64.10" height="23.73" fill="#ffe1e1"/>
<rect x="1735.80" y="176.00" width="64.10" height="23.73" fill="#eaeafa"/>
<rect x="1799.60" y="176.00" width="64.10" height="23.73" fill="#ffecec"/>
<rect x="1863.40" y="176.00" width="64.10" height="23.73" fill="#fcfcfe"/>
<rect x="1927.20" y="176.00" width="63.80" height="23.73" fill="#ff8484"/>
<rect x="1672.00" y="199.43" width="64.10" height="23.73" fill="#ffc0c0"/>
<rect x="1735.80" y="199.43" width="64.10" height="23.73" fill="#ff8484"/>
<rect x="1799.60" y="199.43" width="64.10" height="23.73" fill="#ff2d2d"/>
<rect x="1863.40" y="199.43" width="64.10" height="23.73" fill="#ff5555"/>
<rect x="1927.20" y="199.43" width="63.80" height="23.73" fill="#ff3030"/>
<rect x="1672.00" y="222.86" width="64.10" height="23.73" fill="#ffd2d2"/>
<rect x="1735.80" y="222.86" width="64.10" height="23.73" fill="#ffb2b2"/>
<rect x="1799.60" y="222.86" width="64.10" height="23.73" fill="#ff6c6c"/>
<rect x="1863.40" y="222.86" width="64.10" height="23.73" fill="#ff9494"/>
<rect x="1927.20" y="222.86" width="63.80" height="23.73" fill="#ff7676"/>
<rect x="1672.00" y="246.29" width="64.10" height="23.73" fill="#fff0f0"/>
<rect x="1735.80" y="246.29" width="64.10" height="23.73" fill="#ffbcbc"/>
<rect x="1799.60" y="246.29" width="64.10" height="23.73" fill="#ff5555"/>
<rect x="1863.40" y="246.29" width="64.10" height="23.73" fill="#ff7676"/>
<rect x="1927.20" y="246.29" width="63.80" height="23.73" fill="#ff5252"/>
<rect x="1672.00" y="269.72" width="64.10" height="23.73" fill="#e8e8fa"/>
<rect x="1735.80" y="269.72" width="64.10" height="23.73" fill="#c4c4f2"/>
<rect x="1799.60" y="269.72" width="64.10" height="23.73" fill="#d4d4f6"/>
<rect x="1863.40" y="269.72" width="64.10" height="23.73" fill="#8484e4"/>
<rect x="1927.20" y="269.72" width="63.80" height="23.73" fill="#acaced"/>
<rect x="1672.00" y="293.16" width="64.10" height="23.73" fill="#b2b2ee"/>
<rect x="1735.80" y="293.16" width="64.10" height="23.73" fill="#7070e0"/>
<rect x="1799.60" y="293.16" width="64.10" height="23.73" fill="#3434d3"/>
<rect x="1863.40" y="293.16" width="64.10" height="23.73" fill="#3636d4"/>
<rect x="1927.20" y="293.16" width="63.80" height="23.73" fill="#3838d4"/>
<rect x="1672.00" y="316.59" width="64.10" height="23.73" fill="#d2d2f5"/>
<rect x="1735.80" y="316.59" width="64.10" height="23.73" fill="#dadaf7"/>
<rect x="1799.60" y="316.59" width="64.10" height="23.73" fill="#9e9eea"/>
<rect x="1863.40" y="316.59" width="64.10" height="23.73" fill="#5c5cdc"/>
<rect x="1927.20" y="316.59" width="63.80" height="23.73" fill="#3a3ad5"/>
<rect x="1672.00" y="340.02" width="64.10" height="23.73" fill="#ffd0d0"/>
<rect x="1735.80" y="340.02" width="64.10" height="23.73" fill="#ffdada"/>
<rect x="1799.60" y="340.02" width="64.10" height="23.73" fill="#8e8ee7"/>
<rect x="1863.40" y="340.02" width="64.10" height="23.73" fill="#7e7ee3"/>
<rect x="1927.20" y="340.02" width="63.80" height="23.73" fill="#f0f0fc"/>
<rect x="1672.00" y="363.45" width="64.10" height="23.73" fill="#f8f8fd"/>
<rect x="1735.80" y="363.45" width="64.10" height="23.73" fill="#ffb9b9"/>
<rect x="1799.60" y="363.45" width="64.10" height="23.73" fill="#ff5c5c"/>
<rect x="1863.40" y="363.45" width="64.10" height="23.73" fill="#ff4e4e"/>
<rect x="1927.20" y="363.45" width="63.80" height="23.73" fill="#ff4141"/>
<rect x="1672.00" y="386.89" width="64.10" height="23.73" fill="#ffe2e2"/>
<rect x="1735.80" y="386.89" width="64.10" height="23.73" fill="#ffeaea"/>
<rect x="1799.60" y="386.89" width="64.10" height="23.73" fill="#ffaaaa"/>
<rect x="1863.40" y="386.89" width="64.10" height="23.73" fill="#ff8787"/>
<rect x="1927.20" y="386.89" width="63.80" height="23.73" fill="#ff6464"/>
<rect x="1672.00" y="410.32" width="64.10" height="23.73" fill="#d0d0f5"/>
<rect x="1735.80" y="410.32" width="64.10" height="23.73" fill="#ff0505"/>
<rect x="1799.60" y="410.32" width="64.10" height="23.73" fill="#dadaf7"/>
<rect x="1863.40" y="410.32" width="64.10" height="23.73" fill="#bebef1"/>
<rect x="1927.20" y="410.32" width="63.80" height="23.73" fill="#bcbcf1"/>
<rect x="1672.00" y="433.75" width="64.10" height="23.73" fill="#d6d6f6"/>
<rect x="1735.80" y="433.75" width="64.10" height="23.73" fill="#d2d2f5"/>
<rect x="1799.60" y="433.75" width="64.10" height="23.73" fill="#a0a0eb"/>
<rect x="1863.40" y="433.75" width="64.10" height="23.73" fill="#9090e7"/>
<rect x="1927.20" y="433.75" width="63.80" height="23.73" fill="#7070e0"/>
<rect x="1672.00" y="457.18" width="64.10" height="23.73" fill="#d6d6f6"/>
<rect x="1735.80" y="457.18" width="64.10" height="23.73" fill="#b0b0ee"/>
<rect x="1799.60" y="457.18" width="64.10" height="23.73" fill="#3e3ed5"/>
<rect x="1863.40" y="457.18" width="64.10" height="23.73" fill="#0808ca"/>
<rect x="1927.20" y="457.18" width="63.80" height="23.73" fill="#0000c8"/>
<rect x="1672.00" y="480.61" width="64.10" height="23.73" fill="#9e9eea"/>
<rect x="1735.80" y="480.61" width="64.10" height="23.73" fill="#c0c0f1"/>
<rect x="1799.60" y="480.61" width="64.10" height="23.73" fill="#8888e5"/>
<rect x="1863.40" y="480.61" width="64.10" height="23.73" fill="#7878e2"/>
<rect x="1927.20" y="480.61" width="63.80" height="23.73" fill="#4e4ed9"/>
<rect x="1672.00" y="504.05" width="64.10" height="23.73" fill="#ffecec"/>
<rect x="1735.80" y="504.05" width="64.10" height="23.73" fill="#ffe1e1"/>
<rect x="1799.60" y="504.05" width="64.10" height="23.73" fill="#fff2f2"/>
<rect x="1863.40" y="504.05" width="64.10" height="23.73" fill="#ffbebe"/>
<rect x="1927.20" y="504.05" width="63.80" height="23.73" fill="#ff8c8c"/>
<rect x="1672.00" y="527.48" width="64.10" height="23.73" fill="#f0f0fc"/>
<rect x="1735.80" y="527.48" width="64.10" height="23.73" fill="#eaeafa"/>
<rect x="1799.60" y="527.48" width="64.10" height="23.73" fill="#ffe4e4"/>
<rect x="1863.40" y="527.48" width="64.10" height="23.73" fill="#ff8282"/>
<rect x="1927.20" y="527.48" width="63.80" height="23.73" fill="#ff8787"/>
<rect x="1672.00" y="550.91" width="64.10" height="23.73" fill="#fafafe"/>
<rect x="1735.80" y="550.91" width="64.10" height="23.73" fill="#ffeeee"/>
<rect x="1799.60" y="550.91" width="64.10" height="23.73" fill="#ffacac"/>
<rect x="1863.40" y="550.91" width="64.10" height="23.73" fill="#ffaaaa"/>
<rect x="1927.20" y="550.91" width="63.80" height="23.73" fill="#ff8787"/>
<rect x="1672.00" y="574.34" width="64.10" height="23.73" fill="#dcdcf7"/>
<rect x="1735.80" y="574.34" width="64.10" height="23.73" fill="#e1e1f9"/>
<rect x="1799.60" y="574.34" width="64.10" height="23.73" fill="#b0b0ee"/>
<rect x="1863.40" y="574.34" width="64.10" height="23.73" fill="#ccccf4"/>
<rect x="1927.20" y="574.34" width="63.80" height="23.73" fill="#7a7ae2"/>
<rect x="1672.00" y="597.77" width="64.10" height="23.73" fill="#e1e1f9"/>
<rect x="1735.80" y="597.77" width="64.10" height="23.73" fill="#a4a4eb"/>
<rect x="1799.60" y="597.77" width="64.10" height="23.73" fill="#6666de"/>
<rect x="1863.40" y="597.77" width="64.10" height="23.73" fill="#4c4cd8"/>
<rect x="1927.20" y="597.77" width="63.80" height="23.73" fill="#2626d0"/>
<rect x="1672.00" y="621.21" width="64.10" height="23.73" fill="#ffc8c8"/>
<rect x="1735.80" y="621.21" width="64.10" height="23.73" fill="#e8e8fa"/>
<rect x="1799.60" y="621.21" width="64.10" height="23.73" fill="#ff8787"/>
<rect x="1863.40" y="621.21" width="64.10" height="23.73" fill="#ff0000"/>
<rect x="1927.20" y="621.21" width="63.80" height="23.73" fill="#ff1212"/>
<rect x="1672.00" y="644.64" width="64.10" height="23.73" fill="#fff4f4"/>
<rect x="1735.80" y="644.64" width="64.10" height="23.73" fill="#f0f0fc"/>
<rect x="1799.60" y="644.64" width="64.10" height="23.73" fill="#ffaaaa"/>
<rect x="1863.40" y="644.64" width="64.10" height="23.73" fill="#ff6262"/>
<rect x="1927.20" y="644.64" width="63.80" height="23.73" fill="#ff6c6c"/>
<rect x="1672.00" y="668.07" width="64.10" height="23.73" fill="#fff0f0"/>
<rect x="1735.80" y="668.07" width="64.10" height="23.73" fill="#ececfb"/>
<rect x="1799.60" y="668.07" width="64.10" height="23.73" fill="#aeaeee"/>
<rect x="1863.40" y="668.07" width="64.10" height="23.73" fill="#9a9ae9"/>
<rect x="1927.20" y="668.07" width="63.80" height="23.73" fill="#9090e7"/>
<rect x="1672.00" y="691.50" width="64.10" height="23.73" fill="#c0c0f1"/>
<rect x="1735.80" y="691.50" width="64.10" height="23.73" fill="#d6d6f6"/>
<rect x="1799.60" y="691.50" width="64.10" height="23.73" fill="#c0c0f1"/>
<rect x="1863.40" y="691.50" width="64.10" height="23.73" fill="#6868de"/>
<rect x="1927.20" y="691.50" width="63.80" height="23.73" fill="#8888e5"/>
<rect x="1672.00" y="714.94" width="64.10" height="23.73" fill="#ff8c8c"/>
<rect x="1735.80" y="714.94" width="64.10" height="23.73" fill="#ff9191"/>
<rect x="1799.60" y="714.94" width="64.10" height="23.73" fill="#ffc0c0"/>
<rect x="1863.40" y="714.94" width="64.10" height="23.73" fill="#ff6262"/>
<rect x="1927.20" y="714.94" width="63.80" height="23.73" fill="#ffc6c6"/>
<rect x="1672.00" y="738.37" width="64.10" height="23.53" fill="#f0f0fc"/>
<rect x="1735.80" y="738.37" width="64.10" height="23.53" fill="#9a9ae9"/>
<rect x="1799.60" y="738.37" width="64.10" height="23.53" fill="#7474e1"/>
<rect x="1863.40" y="738.37" width="64.10" height="23.53" fill="#6262dd"/>
<rect x="1927.20" y="738.37" width="63.80" height="23.53" fill="#4e4ed9"/>
</g>
<rect x="1609.00" y="105.90" width="382.00" height="656.00" fill="none" stroke="#000" stroke-width="4.00"/>
<g font-family='"Liberation Sans", sans-serif' font-weight="bold" font-size="20.50" text-anchor="end" stroke="#000" stroke-width="0.30" stroke-linejoin="round" letter-spacing="0.50">
<line x1="1596.20" y1="117.42" x2="1607.20" y2="117.42" stroke="#000" stroke-width="4.60"/>
<text transform="translate(1590.80 123.82) scale(1.000 1.090)">Acaca</text>
<line x1="1596.20" y1="140.85" x2="1607.20" y2="140.85" stroke="#000" stroke-width="4.60"/>
<text transform="translate(1590.80 147.25) scale(1.000 1.090)">Acacb</text>
<line x1="1596.20" y1="164.28" x2="1607.20" y2="164.28" stroke="#000" stroke-width="4.60"/>
<text transform="translate(1590.80 170.68) scale(1.000 1.090)">Acad9</text>
<line x1="1596.20" y1="187.71" x2="1607.20" y2="187.71" stroke="#000" stroke-width="4.60"/>
<text transform="translate(1590.80 194.11) scale(1.000 1.090)">Acad11</text>
<line x1="1596.20" y1="211.14" x2="1607.20" y2="211.14" stroke="#000" stroke-width="4.60"/>
<text transform="translate(1590.80 217.54) scale(1.000 1.090)">Acot3</text>
<line x1="1596.20" y1="234.58" x2="1607.20" y2="234.58" stroke="#000" stroke-width="4.60"/>
<text transform="translate(1590.80 240.98) scale(1.000 1.090)">Acot4</text>
<line x1="1596.20" y1="258.01" x2="1607.20" y2="258.01" stroke="#000" stroke-width="4.60"/>
<text transform="translate(1590.80 264.41) scale(1.000 1.090)">Acot5</text>
<line x1="1596.20" y1="281.44" x2="1607.20" y2="281.44" stroke="#000" stroke-width="4.60"/>
<text transform="translate(1590.80 287.84) scale(1.000 1.090)">Acot11</text>
<line x1="1596.20" y1="304.87" x2="1607.20" y2="304.87" stroke="#000" stroke-width="4.60"/>
<text transform="translate(1590.80 311.27) scale(1.000 1.090)">Acsm2</text>
<line x1="1596.20" y1="328.31" x2="1607.20" y2="328.31" stroke="#000" stroke-width="4.60"/>
<text transform="translate(1590.80 334.71) scale(1.000 1.090)">Acss1</text>
<line x1="1596.20" y1="351.74" x2="1607.20" y2="351.74" stroke="#000" stroke-width="4.60"/>
<text transform="translate(1590.80 358.14) scale(1.000 1.090)">Acss2</text>
<line x1="1596.20" y1="375.17" x2="1607.20" y2="375.17" stroke="#000" stroke-width="4.60"/>
<text transform="translate(1590.80 381.57) scale(1.000 1.090)">Cebpd</text>
<line x1="1596.20" y1="398.60" x2="1607.20" y2="398.60" stroke="#000" stroke-width="4.60"/>
<text transform="translate(1590.80 405.00) scale(1.000 1.090)">Cpt1c</text>
<line x1="1596.20" y1="422.03" x2="1607.20" y2="422.03" stroke="#000" stroke-width="4.60"/>
<text transform="translate(1590.80 428.43) scale(1.000 1.090)">Fabp3</text>
<line x1="1596.20" y1="445.47" x2="1607.20" y2="445.47" stroke="#000" stroke-width="4.60"/>
<text transform="translate(1590.80 451.87) scale(1.000 1.090)">Fabp4</text>
<line x1="1596.20" y1="468.90" x2="1607.20" y2="468.90" stroke="#000" stroke-width="4.60"/>
<text transform="translate(1590.80 475.30) scale(1.000 1.090)">Fabp5</text>
<line x1="1596.20" y1="492.33" x2="1607.20" y2="492.33" stroke="#000" stroke-width="4.60"/>
<text transform="translate(1590.80 498.73) scale(1.000 1.090)">Fabp12</text>
<line x1="1596.20" y1="515.76" x2="1607.20" y2="515.76" stroke="#000" stroke-width="4.60"/>
<text transform="translate(1590.80 522.16) scale(1.000 1.090)">Hadhb</text>
<line x1="1596.20" y1="539.19" x2="1607.20" y2="539.19" stroke="#000" stroke-width="4.60"/>
<text transform="translate(1590.80 545.59) scale(1.000 1.090)">Lpin1</text>
<line x1="1596.20" y1="562.63" x2="1607.20" y2="562.63" stroke="#000" stroke-width="4.60"/>
<text transform="translate(1590.80 569.03) scale(1.000 1.090)">Lpin2</text>
<line x1="1596.20" y1="586.06" x2="1607.20" y2="586.06" stroke="#000" stroke-width="4.60"/>
<text transform="translate(1590.80 592.46) scale(1.000 1.090)">Lpl</text>
<line x1="1596.20" y1="609.49" x2="1607.20" y2="609.49" stroke="#000" stroke-width="4.60"/>
<text transform="translate(1590.80 615.89) scale(1.000 1.090)">Nudt7</text>
<line x1="1596.20" y1="632.92" x2="1607.20" y2="632.92" stroke="#000" stroke-width="4.60"/>
<text transform="translate(1590.80 639.32) scale(1.000 1.090)">Plin4</text>
<line x1="1596.20" y1="656.36" x2="1607.20" y2="656.36" stroke="#000" stroke-width="4.60"/>
<text transform="translate(1590.80 662.76) scale(1.000 1.090)">Plin5</text>
<line x1="1596.20" y1="679.79" x2="1607.20" y2="679.79" stroke="#000" stroke-width="4.60"/>
<text transform="translate(1590.80 686.19) scale(1.000 1.090)">Pnpla5</text>
<line x1="1596.20" y1="703.22" x2="1607.20" y2="703.22" stroke="#000" stroke-width="4.60"/>
<text transform="translate(1590.80 709.62) scale(1.000 1.090)">Scd1</text>
<line x1="1596.20" y1="726.65" x2="1607.20" y2="726.65" stroke="#000" stroke-width="4.60"/>
<text transform="translate(1590.80 733.05) scale(1.000 1.090)">Scd3</text>
<line x1="1596.20" y1="750.08" x2="1607.20" y2="750.08" stroke="#000" stroke-width="4.60"/>
<text transform="translate(1590.80 756.48) scale(1.000 1.090)">Srebf1</text>
</g>
<g font-family='"Liberation Sans", sans-serif' font-weight="bold" font-size="20.50" text-anchor="end" stroke="#000" stroke-width="0.30" stroke-linejoin="round" letter-spacing="0.50">
<line x1="1640.10" y1="763.70" x2="1640.10" y2="774.90" stroke="#000" stroke-width="4.60"/>
<text transform="translate(1645.60 794.90) rotate(-45) scale(1.000 1.000)">0 Gy</text>
<line x1="1703.90" y1="763.70" x2="1703.90" y2="774.90" stroke="#000" stroke-width="4.60"/>
<text transform="translate(1709.40 794.90) rotate(-45) scale(1.000 1.000)">1 Gy</text>
<line x1="1767.70" y1="763.70" x2="1767.70" y2="774.90" stroke="#000" stroke-width="4.60"/>
<text transform="translate(1773.20 794.90) rotate(-45) scale(1.000 1.000)">2 Gy</text>
<line x1="1831.50" y1="763.70" x2="1831.50" y2="774.90" stroke="#000" stroke-width="4.60"/>
<text transform="translate(1837.00 794.90) rotate(-45) scale(1.000 1.000)">4 Gy</text>
<line x1="1895.30" y1="763.70" x2="1895.30" y2="774.90" stroke="#000" stroke-width="4.60"/>
<text transform="translate(1900.80 794.90) rotate(-45) scale(1.000 1.000)">8 Gy</text>
<line x1="1959.10" y1="763.70" x2="1959.10" y2="774.90" stroke="#000" stroke-width="4.60"/>
<text transform="translate(1964.60 794.90) rotate(-45) scale(1.000 1.000)">12 Gy</text>
</g>
<text transform="translate(1751.90 898.80) scale(1.000 1.100)" font-family='"Liberation Sans", sans-serif' font-weight="bold" font-size="27.00" text-anchor="middle" stroke="#000" stroke-width="0.30" stroke-linejoin="round" letter-spacing="0.50">Dose</text>
<defs><linearGradient id="gC" x1="0" y1="0" x2="0" y2="1"><stop offset="0.00%" stop-color="#ff0000"/><stop offset="2.10%" stop-color="#ff0b0b"/><stop offset="4.19%" stop-color="#ff1515"/><stop offset="6.29%" stop-color="#ff2020"/><stop offset="8.39%" stop-color="#ff2a2a"/><stop offset="10.48%" stop-color="#ff3535"/><stop offset="12.58%" stop-color="#ff4040"/><stop offset="14.67%" stop-color="#ff4a4a"/><stop offset="16.77%" stop-color="#ff5555"/><stop offset="18.87%" stop-color="#ff6060"/><stop offset="20.96%" stop-color="#ff6a6a"/><stop offset="23.06%" stop-color="#ff7575"/><stop offset="25.16%" stop-color="#ff8080"/><stop offset="27.25%" stop-color="#ff8a8a"/><stop offset="29.35%" stop-color="#ff9595"/><stop offset="31.45%" stop-color="#ff9f9f"/><stop offset="33.54%" stop-color="#ffaaaa"/><stop offset="35.64%" stop-color="#ffb5b5"/><stop offset="37.73%" stop-color="#ffbfbf"/><stop offset="39.83%" stop-color="#ffcaca"/><stop offset="41.93%" stop-color="#ffd4d4"/><stop offset="44.02%" stop-color="#ffdfdf"/><stop offset="46.12%" stop-color="#ffeaea"/><stop offset="48.22%" stop-color="#fff4f4"/><stop offset="50.31%" stop-color="#ffffff"/><stop offset="52.38%" stop-color="#f0f0fc"/><stop offset="54.45%" stop-color="#e4e4f9"/><stop offset="56.52%" stop-color="#d8d8f7"/><stop offset="58.59%" stop-color="#ccccf4"/><stop offset="60.66%" stop-color="#c1c1f2"/><stop offset="62.73%" stop-color="#b6b6ef"/><stop offset="64.80%" stop-color="#ababed"/><stop offset="66.87%" stop-color="#a0a0eb"/><stop offset="68.95%" stop-color="#9696e8"/><stop offset="71.02%" stop-color="#8b8be6"/><stop offset="73.09%" stop-color="#8181e4"/><stop offset="75.16%" stop-color="#7676e2"/><stop offset="77.23%" stop-color="#6c6cdf"/><stop offset="79.30%" stop-color="#6262dd"/><stop offset="81.37%" stop-color="#5858db"/><stop offset="83.44%" stop-color="#4e4ed9"/><stop offset="85.51%" stop-color="#4444d7"/><stop offset="87.58%" stop-color="#3a3ad5"/><stop offset="89.65%" stop-color="#3030d2"/><stop offset="91.72%" stop-color="#2727d0"/><stop offset="93.79%" stop-color="#1d1dce"/><stop offset="95.86%" stop-color="#1313cc"/><stop offset="97.93%" stop-color="#0a0aca"/><stop offset="100.00%" stop-color="#0000c8"/></linearGradient></defs>
<rect x="1442.40" y="93.60" width="36.40" height="656.70" fill="url(#gC)" stroke="#000" stroke-width="2.70"/>
<g font-family='"Liberation Sans", sans-serif' font-size="22.30" stroke="#000" stroke-width="0.25">
<line x1="1442.40" y1="143.20" x2="1448.75" y2="143.20" stroke="#000" stroke-width="3.00"/>
<line x1="1472.45" y1="143.20" x2="1478.80" y2="143.20" stroke="#000" stroke-width="3.00"/>
<text transform="translate(1492.20 150.70) scale(1.000 1.120)">2</text>
<line x1="1442.40" y1="283.60" x2="1448.75" y2="283.60" stroke="#000" stroke-width="3.00"/>
<line x1="1472.45" y1="283.60" x2="1478.80" y2="283.60" stroke="#000" stroke-width="3.00"/>
<text transform="translate(1492.20 291.10) scale(1.000 1.120)">1</text>
<line x1="1442.40" y1="424.00" x2="1448.75" y2="424.00" stroke="#000" stroke-width="3.00"/>
<line x1="1472.45" y1="424.00" x2="1478.80" y2="424.00" stroke="#000" stroke-width="3.00"/>
<text transform="translate(1492.20 431.50) scale(1.000 1.120)">0</text>
<line x1="1442.40" y1="564.40" x2="1448.75" y2="564.40" stroke="#000" stroke-width="3.00"/>
<line x1="1472.45" y1="564.40" x2="1478.80" y2="564.40" stroke="#000" stroke-width="3.00"/>
<text transform="translate(1492.20 571.90) scale(1.000 1.120)">-1</text>
<line x1="1442.40" y1="704.80" x2="1448.75" y2="704.80" stroke="#000" stroke-width="3.00"/>
<line x1="1472.45" y1="704.80" x2="1478.80" y2="704.80" stroke="#000" stroke-width="3.00"/>
<text transform="translate(1492.20 712.30) scale(1.000 1.120)">-2</text>
</g>
<text transform="translate(1417.50 58.90) scale(1.000 1.040)" font-family='"Liberation Sans", sans-serif' font-weight="bold" font-size="22.50" stroke="#000" stroke-width="0.30" stroke-linejoin="round" letter-spacing="1.20">Log2FC</text>
<text transform="translate(1355.80 45.20) scale(0.832 1)" font-family='"Liberation Sans", sans-serif' font-size="50.70" stroke="#000" stroke-width="0.80">C</text>
</svg>
</body>
</html>
